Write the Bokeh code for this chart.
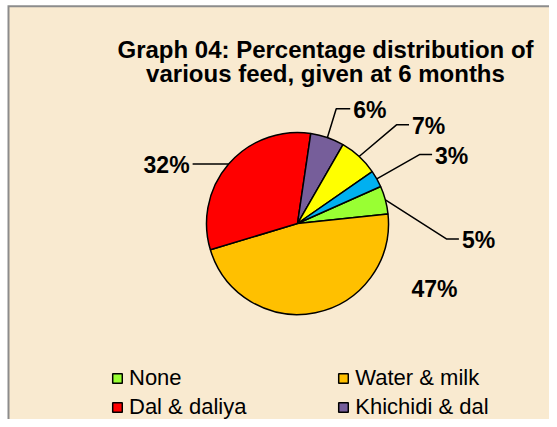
import math
import numpy as np
from bokeh.plotting import figure
from bokeh.models import (ColumnDataSource, Label, Legend, LegendItem, Range1d,
                          BoxAnnotation)
from bokeh.core.properties import value
from bokeh.embed import file_html
from bokeh.resources import INLINE

# ---------------- data ----------------
categories = ["None", "Water & milk", "Dal & daliya", "Khichidi & dal", "Item 5", "Item 6"]
percents = [5, 47, 32, 6, 7, 3]
colors = ["#99FF33", "#FFC000", "#FF0000", "#765E9A", "#FFFF00", "#00B0F0"]
legend_columns = [[0, 2], [1, 3]]
title_lines = ["Graph 04: Percentage distribution of", "various feed, given at 6 months"]

# ---------------- layout ----------------
W, H = 549, 419
BG = "#F9EAD0"
BORDER = "#8C8C8C"
FONT = "Liberation Sans"


def px(x):  # picture px -> data x
    return x


def py(y):  # picture px -> data y
    return H - y


CX, CY, R = px(297), py(223), 91
FIRST_ANGLE = math.radians(24)

p = figure(width=W, height=H, x_range=Range1d(0, W), y_range=Range1d(0, H),
           x_axis_type=None, y_axis_type=None, output_backend="svg",
           toolbar_location=None, min_border=0, background_fill_color="white",
           border_fill_color="white", outline_line_color=None)

# chart area (beige) with grey border on its visible left/top edges
p.add_layout(BoxAnnotation(left=px(7), right=W + 20, top=py(4.7), bottom=-20,
                           fill_color=BORDER, fill_alpha=1, line_color=None,
                           level="underlay"))
p.add_layout(BoxAnnotation(left=px(9), right=W + 20, top=py(6.7), bottom=-20,
                           fill_color=BG, fill_alpha=1, line_color=None,
                           level="underlay"))

total = float(sum(percents))
cum = np.concatenate([[0], np.cumsum(percents)])
ends = [FIRST_ANGLE - 2 * math.pi * cum[i] / total for i in range(len(percents))]
starts = [FIRST_ANGLE - 2 * math.pi * cum[i + 1] / total for i in range(len(percents))]
mids = [(s + e) / 2 for s, e in zip(starts, ends)]

src = ColumnDataSource(dict(cat=categories, pct=percents, color=colors,
                            start=starts, end=ends))
wr = p.wedge(x=CX, y=CY, radius=R, start_angle="start", end_angle="end",
             direction="anticlock", fill_color="color", line_color="black",
             line_width=1.5, source=src)

# label placement (picture-pixel offsets from the slice edge point)
leader_layout = {
    0: dict(elbow=(61, 39), tail=12.5),
    2: dict(elbow=(0, 0), tail=-36),
    3: dict(elbow=(8.8, -28.8), tail=14),
    4: dict(elbow=(37.4, -31.7), tail=12.5),
    5: dict(elbow=(42.7, -24.3), tail=12.6),
}
free_layout = {1: (119, -24)}

lx, ly = [], []
tx, ty, tt, talign = [], [], [], []
for i, m in enumerate(mids):
    ex = CX + R * math.cos(m)
    ey = CY + R * math.sin(m)
    if i in leader_layout:
        d = leader_layout[i]
        bx = ex + d["elbow"][0]
        by = ey - d["elbow"][1]
        endx = bx + d["tail"]
        lx.append([ex, bx, endx])
        ly.append([ey, by, by])
        sgn = 1 if d["tail"] > 0 else -1
        tx.append(endx + sgn * 3.0)
        ty.append(by - 1)
        tt.append(f"{percents[i]}%")
        talign.append("left" if sgn > 0 else "right")

p.multi_line(xs=lx, ys=ly, line_color="black", line_width=1.5)
p.text(x=tx, y=ty, text=tt, text_align=talign, text_baseline="alphabetic",
       text_font=value(FONT), text_font_style="bold", text_font_size="23px",
       text_color="black")

for i, (dx, dy) in free_layout.items():
    ex = CX + R * math.cos(mids[i])
    ey = CY + R * math.sin(mids[i])
    p.add_layout(Label(x=ex + dx, y=ey - dy, text=f"{percents[i]}%",
                       text_align="center", text_baseline="middle",
                       text_font=FONT, text_font_style="bold",
                       text_font_size="23px", text_color="black"))

# title
for k, line in enumerate(title_lines):
    p.add_layout(Label(x=px(325), y=py(49 + 23.5 * k), text=line,
                       text_align="center", text_baseline="alphabetic",
                       text_font=FONT, text_font_style="bold",
                       text_font_size="24px", text_color="black"))

# legend: two columns
col_x = [111, 337.3]
for c, idxs in enumerate(legend_columns):
    items = [LegendItem(label=categories[i], renderers=[wr], index=i) for i in idxs]
    leg = Legend(items=items, location=(col_x[c], -0.5), orientation="vertical",
                 glyph_width=12, glyph_height=12, label_standoff=6, spacing=3,
                 padding=0, margin=0, border_line_color=None,
                 background_fill_alpha=0, label_text_font=FONT,
                 label_text_font_size="22px", label_text_color="black",
                 label_height=25)
    p.add_layout(leg, "center")

html = file_html(p, INLINE)
html = html.replace("<body>", '<body style="background-color:%s;">' % BG, 1)
open("out.html", "w").write(html)
